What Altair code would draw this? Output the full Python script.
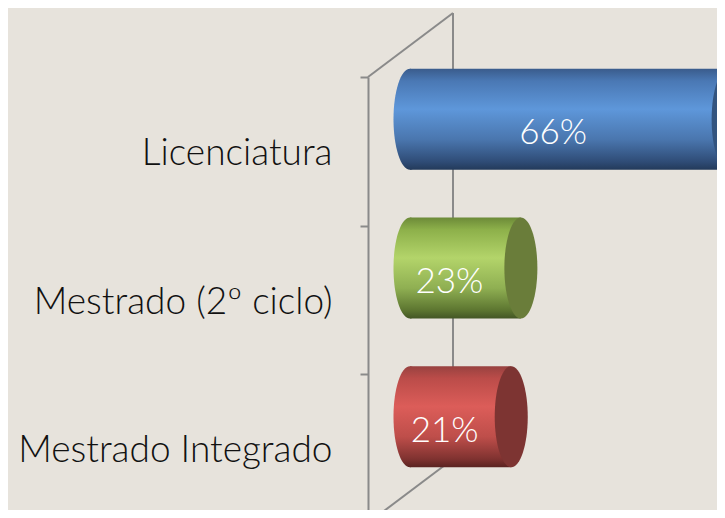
import altair as alt
import pandas as pd

categories = ["Licenciatura", "Mestrado (2º ciclo)", "Mestrado Integrado"]
values = [66, 23, 21]
value_labels = ["66%", "23%", "21%"]

bar_stops = [
    ["#3A5C8C", "#4A78B4", "#5E97DA", "#4A76AE", "#2F4C76", "#233A5A"],
    ["#6C8A38", "#8DB04A", "#B3D46A", "#8FAF52", "#5C7530", "#435625"],
    ["#984240", "#BB4C49", "#DC5D59", "#BE4E4A", "#7F3230", "#5A2321"],
]
stop_offsets = [0.0, 0.12, 0.4, 0.7, 0.92, 1.0]
cap_colors = ["#33547F", "#6A7D3A", "#7D3432"]

BG = "#E7E3DC"
GRID = "#8A8A8A"
LW = 2
DEPTH_X, DEPTH_Y = 85, -64
MID_X, MID_Y = 42, -32
BAR_H = 101

# ellipse symbol (unit box -1..1), bezier approximation
a = 0.327
k = 0.5523
ELLIPSE = (f"M0,-1 C{k*a:.4f},-1 {a},-{k} {a},0 C{a},{k} {k*a:.4f},1 0,1 "
           f"C-{k*a:.4f},1 -{a},{k} -{a},0 C-{a},-{k} -{k*a:.4f},-1 0,-1 Z")

df = pd.DataFrame({"cat": categories, "value": values, "label": value_labels})
df["half"] = df["value"] / 2
df["zero"] = 0

xs = alt.Scale(domain=[0, 72.4], nice=False, zero=False)
ys = alt.Scale(domain=categories, range=[69, 515], paddingInner=0, paddingOuter=0)
yax = alt.Axis(
    orient="left", domainColor=GRID, domainWidth=LW, tickColor=GRID, tickWidth=LW,
    tickSize=8, tickBand="extent", labelPadding=28, labelFontSize=37, labelFont="Lato",
    labelFontWeight=300, labelColor="#111111", labelLimit=0, labelAlign="right",
    labelBaseline="middle", labelOffset=2, grid=False, title=None)

base = alt.Chart(df)

layers = []

# front axis with category labels
layers.append(base.mark_point(opacity=0).encode(
    x=alt.X("zero:Q", scale=xs, axis=None),
    y=alt.Y("cat:N", scale=ys, axis=yax),
))

# 3D frame: back wall and floor/top edges
frame = pd.DataFrame({"top": [categories[0]], "bot": [categories[-1]], "zero": [0]})
fb = alt.Chart(frame)
layers.append(fb.mark_rule(color=GRID, strokeWidth=LW, xOffset=DEPTH_X,
                           yOffset=DEPTH_Y, y2Offset=DEPTH_Y).encode(
    x=alt.X("zero:Q", scale=xs, axis=None),
    y=alt.Y("top:N", scale=ys, bandPosition=0, axis=yax),
    y2=alt.Y2("bot:N", bandPosition=1),
))
layers.append(fb.mark_rule(color=GRID, strokeWidth=LW, x2Offset=DEPTH_X,
                           y2Offset=DEPTH_Y).encode(
    x=alt.X("zero:Q", scale=xs, axis=None),
    x2="zero:Q",
    y=alt.Y("top:N", scale=ys, bandPosition=0, axis=yax),
    y2=alt.Y2("top:N", bandPosition=0),
))
layers.append(fb.mark_rule(color=GRID, strokeWidth=LW, x2Offset=DEPTH_X,
                           y2Offset=DEPTH_Y).encode(
    x=alt.X("zero:Q", scale=xs, axis=None),
    x2="zero:Q",
    y=alt.Y("bot:N", scale=ys, bandPosition=1, axis=yax),
    y2=alt.Y2("bot:N", bandPosition=1),
))

# cylinders
for i, c in enumerate(categories):
    grad = alt.Gradient(
        gradient="linear",
        stops=[alt.GradientStop(color=col, offset=o) for col, o in zip(bar_stops[i], stop_offsets)],
        x1=0, x2=0, y1=0, y2=1,
    )
    sub = base.transform_filter(alt.datum.cat == c)
    layers.append(sub.mark_point(shape=ELLIPSE, size=BAR_H * BAR_H, filled=True, opacity=1,
                                 fill=grad, strokeWidth=0, xOffset=MID_X, yOffset=MID_Y,
                                 clip=True).encode(
        x=alt.X("zero:Q", scale=xs, axis=None),
        y=alt.Y("cat:N", scale=ys, axis=yax),
    ))
    layers.append(sub.mark_bar(size=BAR_H, fill=grad, xOffset=MID_X, x2Offset=MID_X,
                               yOffset=MID_Y, clip=True).encode(
        x=alt.X("value:Q", scale=xs, axis=None),
        y=alt.Y("cat:N", scale=ys, axis=yax),
    ))

layers.append(base.mark_point(shape=ELLIPSE, size=BAR_H * BAR_H, filled=True, opacity=1,
                              strokeWidth=0, xOffset=MID_X, yOffset=MID_Y, clip=True).encode(
    x=alt.X("value:Q", scale=xs, axis=None),
    y=alt.Y("cat:N", scale=ys, axis=yax),
    fill=alt.Fill("cat:N", scale=alt.Scale(domain=categories, range=cap_colors), legend=None),
))

layers.append(base.mark_text(color="white", fontSize=35, font="Lato", fontWeight=300,
                             xOffset=26, yOffset=-18, align="center",
                             baseline="middle").encode(
    x=alt.X("half:Q", scale=xs, axis=None),
    y=alt.Y("cat:N", scale=ys, axis=yax),
    text="label:N",
))

chart = alt.layer(*layers).properties(
    width=349, height=502,
    autosize=alt.AutoSizeParams(type="none"),
    padding={"left": 360, "top": 0, "right": 0, "bottom": 0},
    background=BG,
).configure_view(stroke=None)

chart.save("out.html", embed_options={"renderer": "svg", "actions": False})
